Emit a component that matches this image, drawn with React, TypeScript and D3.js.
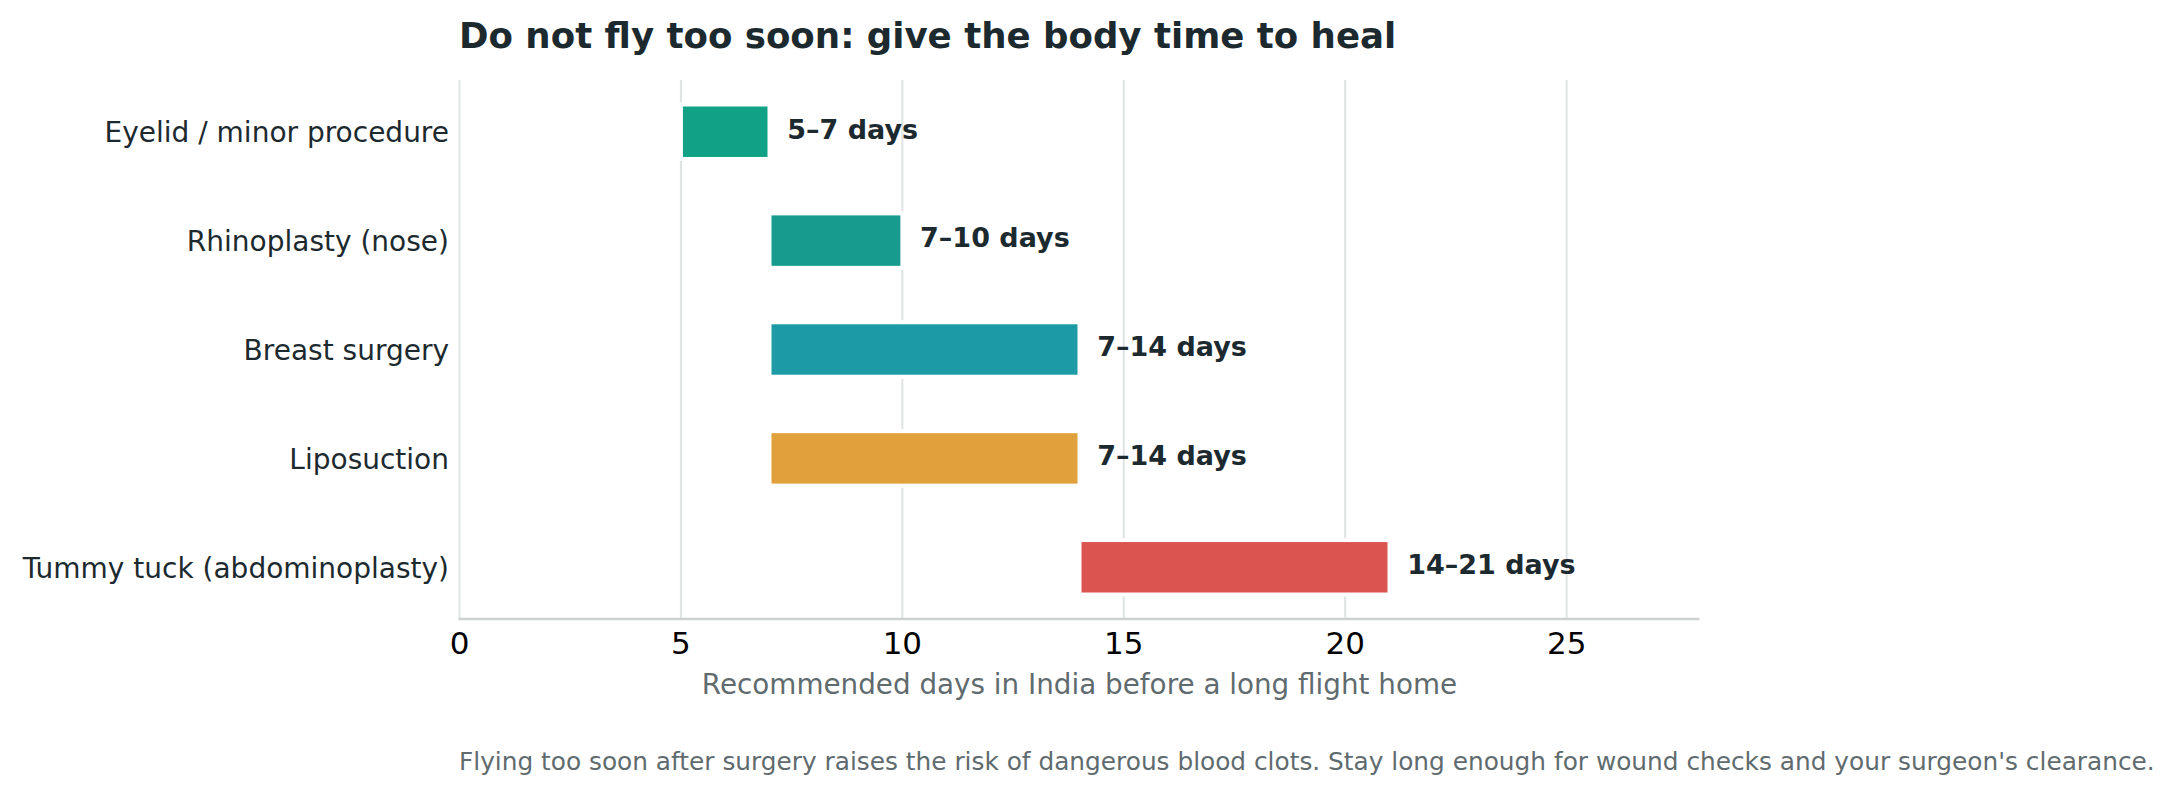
import * as d3 from 'd3';
import React from 'react';

const procedures = [
  'Eyelid / minor procedure',
  'Rhinoplasty (nose)',
  'Breast surgery',
  'Liposuction',
  'Tummy tuck (abdominoplasty)',
];
const minDays = [5, 7, 7, 7, 14];
const maxDays = [7, 10, 14, 14, 21];
const rangeLabels = ['5–7 days', '7–10 days', '7–14 days', '7–14 days', '14–21 days'];
const barColors = ['#10a186', '#179b8e', '#1c9ba6', '#e0a03b', '#da5550'];
const xTicks = [0, 5, 10, 15, 20, 25];

const W = 2177;
const H = 795;
const plot = { left: 459.5, right: 1699.5, top: 80, bottom: 619 };
const dark = '#1c2a2f';
const grey = '#5f6b6e';
const font = '"DejaVu Sans", sans-serif';

export default function App() {
  const x = d3.scaleLinear().domain([0, 28]).range([plot.left, plot.right]);
  const y = d3.scaleLinear().domain([-0.475, 4.475]).range([plot.top, plot.bottom]);
  const barH = y(0.5) - y(0);

  return (
    <div>
      <style>{'body{margin:0}'}</style>
      <svg width={W} height={H} style={{ display: 'block', fontFamily: font }}>
        <rect width={W} height={H} fill="#ffffff" />

        {xTicks.map(t => (
          <line key={t} x1={x(t)} x2={x(t)} y1={plot.top} y2={plot.bottom}
            stroke="#e0e3e3" strokeWidth={2} />
        ))}

        {procedures.map((p, i) => (
          <g key={p}>
            <rect
              x={x(minDays[i])}
              y={y(i) - barH / 2}
              width={x(maxDays[i]) - x(minDays[i])}
              height={barH}
              fill={barColors[i]}
              stroke="#ffffff"
              strokeWidth={4}
            />
            <text x={x(maxDays[i] + 0.4)} y={y(i) + 6.8} fontSize={27} fontWeight="bold" fill={dark}>
              {rangeLabels[i]}
            </text>
            <text x={449} y={y(i) + 10.3} fontSize={28} textAnchor="end" fill={dark}>
              {p}
            </text>
          </g>
        ))}

        <line x1={plot.left - 1} x2={plot.right} y1={plot.bottom} y2={plot.bottom}
          stroke="#cdd1d1" strokeWidth={2.5} />

        {xTicks.map(t => (
          <text key={t} x={x(t)} y={654} fontSize={31} textAnchor="middle" fill="#000000">
            {t}
          </text>
        ))}

        <text x={(plot.left + plot.right) / 2} y={694} fontSize={27.8} textAnchor="middle" fill={grey}>
          Recommended days in India before a long flight home
        </text>

        <text x={459} y={48.3} fontSize={35.6} fontWeight="bold" fill={dark}>
          Do not fly too soon: give the body time to heal
        </text>

        <text x={459} y={770} fontSize={24.8} fill={grey}>
          Flying too soon after surgery raises the risk of dangerous blood clots. Stay long enough for wound checks and your surgeon's clearance.
        </text>
      </svg>
    </div>
  );
}
